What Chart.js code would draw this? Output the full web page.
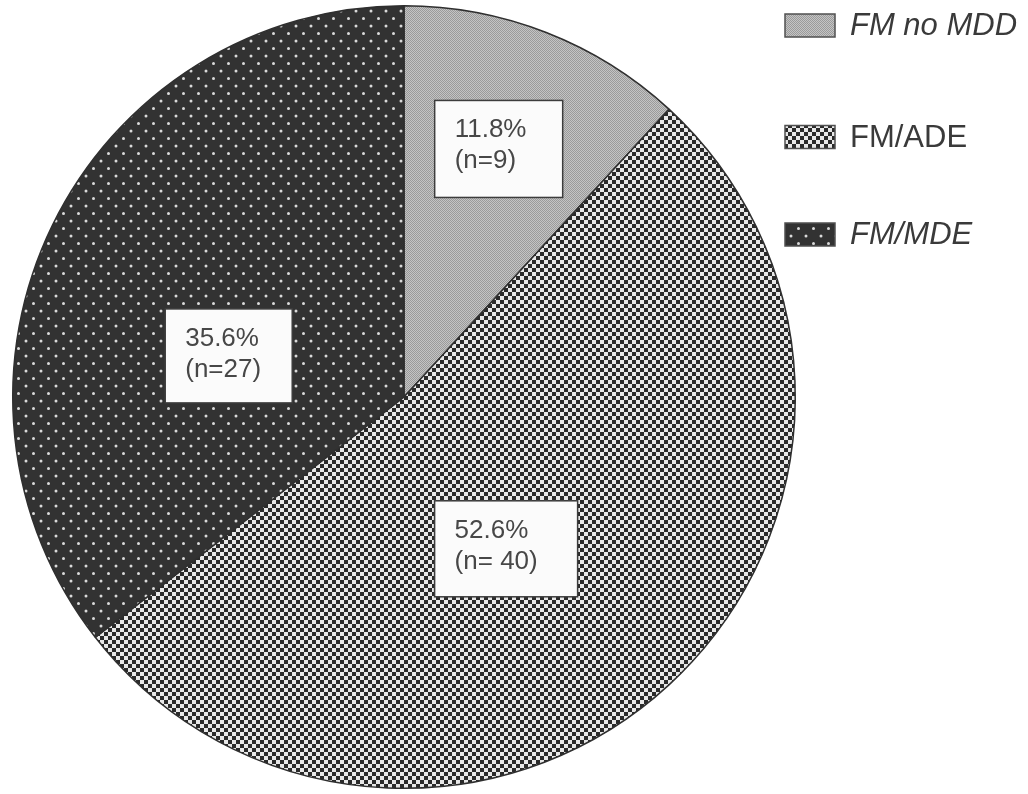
<!DOCTYPE html>
<html>
<head>
<meta charset="utf-8">
<script src="https://cdn.jsdelivr.net/npm/chart.js@4.4.1/dist/chart.umd.min.js"></script>
<style>
  html, body { margin: 0; padding: 0; background: #ffffff; overflow: hidden; }
  #wrap { position: absolute; left: 0; top: 0; width: 1028px; height: 794px; }
</style>
</head>
<body>
<div id="wrap"><canvas id="c" width="1028" height="794"></canvas></div>
<script>
// ---- data ----
const categories = ['FM no MDD', 'FM/ADE', 'FM/MDE'];
const counts = [9, 40, 27];
const percentText = ['11.8%', '52.6%', '35.6%'];
const countText = ['(n=9)', '(n= 40)', '(n=27)'];
const legendItalic = [true, false, true];

// ---- patterns ----
function makePattern(kind) {
  const t = document.createElement('canvas');
  const g = t.getContext('2d');
  if (kind === 'gray') {
    t.width = 2; t.height = 2;
    g.fillStyle = '#c4c4c4'; g.fillRect(0, 0, 2, 2);
    g.fillStyle = '#9a9a9a'; g.fillRect(0, 0, 1, 1); g.fillRect(1, 1, 1, 1);
  } else if (kind === 'checker') {
    t.width = 8; t.height = 8;
    g.fillStyle = '#e8e8e8'; g.fillRect(0, 0, 8, 8);
    g.fillStyle = '#2a2a2a'; g.fillRect(0, 0, 4, 4); g.fillRect(4, 4, 4, 4);
  } else {
    t.width = 15; t.height = 15;
    g.fillStyle = '#323232'; g.fillRect(0, 0, 15, 15);
    g.fillStyle = '#dadada';
    g.beginPath(); g.arc(3.5, 3.5, 1.5, 0, Math.PI * 2); g.fill();
    g.beginPath(); g.arc(11, 11, 1.5, 0, Math.PI * 2); g.fill();
  }
  return document.getElementById('c').getContext('2d').createPattern(t, 'repeat');
}
const fills = [makePattern('gray'), makePattern('checker'), makePattern('dots')];

// ---- label boxes & legend plugin ----
const overlay = {
  id: 'overlay',
  afterDatasetsDraw(chart, args, opts) {
    const ctx = chart.ctx;
    const arcs = chart.getDatasetMeta(0).data;
    const cx = arcs[0].x, cy = arcs[0].y, r = arcs[0].outerRadius;
    ctx.save();
    // value boxes
    opts.boxes.forEach((b, i) => {
      const w = b.w, h = b.h;
      const x = cx + b.dx * r - w / 2;
      const y = cy + b.dy * r - h / 2;
      ctx.fillStyle = '#fbfbfb';
      ctx.fillRect(x, y, w, h);
      ctx.lineWidth = 1.5;
      ctx.strokeStyle = '#3c3c3c';
      ctx.strokeRect(x, y, w, h);
      ctx.fillStyle = '#474747';
      ctx.font = '26px "Liberation Sans", Arial, sans-serif';
      ctx.textBaseline = 'alphabetic';
      ctx.textAlign = 'left';
      ctx.fillText(percentText[i], x + 20, y + 37);
      ctx.fillText(countText[i], x + 20, y + 68);
    });
    // legend
    const L = opts.legend;
    chart.data.labels.forEach((lab, i) => {
      const yc = L.y[i];
      ctx.fillStyle = fills[i];
      ctx.fillRect(L.x, yc - L.h / 2, L.w, L.h);
      ctx.lineWidth = 1.5;
      ctx.strokeStyle = '#505050';
      ctx.strokeRect(L.x, yc - L.h / 2, L.w, L.h);
      ctx.fillStyle = '#3a3a3a';
      ctx.font = (legendItalic[i] ? 'italic ' : '') + '31px "Liberation Sans", Arial, sans-serif';
      ctx.textBaseline = 'middle';
      ctx.fillText(lab, L.x + 65, yc + 1);
    });
    ctx.restore();
  }
};

new Chart(document.getElementById('c'), {
  type: 'pie',
  data: {
    labels: categories,
    datasets: [{
      data: counts,
      backgroundColor: fills,
      borderColor: '#2f2f2f',
      borderWidth: 1.5,
      hoverOffset: 0
    }]
  },
  options: {
    responsive: false,
    animation: false,
    events: [],
    layout: { padding: { left: 12, top: 5, right: 232, bottom: 5 } },
    plugins: {
      legend: { display: false },
      tooltip: { enabled: false },
      overlay: {
        boxes: [
          { dx: 0.242, dy: -0.634, w: 128, h: 97 },
          { dx: 0.261, dy: 0.388, w: 143, h: 96 },
          { dx: -0.448, dy: -0.105, w: 127, h: 94 }
        ],
        legend: { x: 785, w: 50, h: 23, y: [25.5, 137, 234.5] }
      }
    }
  },
  plugins: [overlay]
});
</script>
</body>
</html>
